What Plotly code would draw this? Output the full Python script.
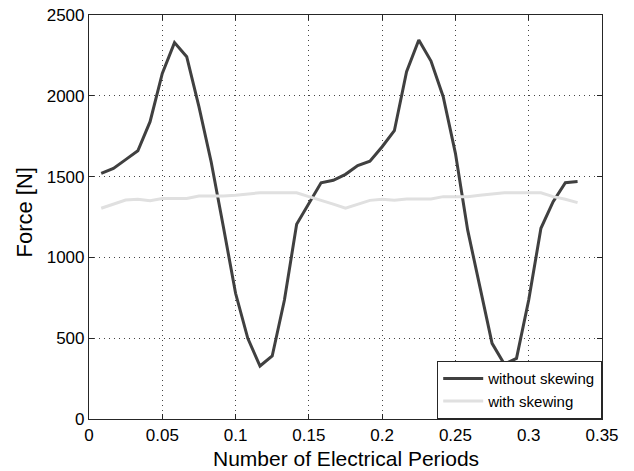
import plotly.graph_objects as go

periods = [k / 120 for k in range(1, 41)]

without_skewing = [1520, 1551, 1605, 1660, 1840, 2139, 2329, 2242, 1933, 1592,
                   1190, 778, 499, 328, 390, 736, 1205, 1330, 1462, 1477,
                   1514, 1568, 1595, 1685, 1784, 2149, 2345, 2215, 1994, 1644,
                   1170, 819, 468, 340, 375, 736, 1180, 1345, 1462, 1469]

with_skewing = [1304, 1330, 1355, 1360, 1350, 1365, 1365, 1365, 1380, 1380,
                1380, 1385, 1392, 1400, 1400, 1400, 1400, 1376, 1355, 1330,
                1304, 1330, 1353, 1360, 1353, 1362, 1362, 1362, 1376, 1378,
                1376, 1384, 1392, 1400, 1400, 1400, 1400, 1376, 1360, 1339]

x_ticks = [0, 0.05, 0.1, 0.15, 0.2, 0.25, 0.3, 0.35]
x_tick_labels = ["0", "0.05", "0.1", "0.15", "0.2", "0.25", "0.3", "0.35"]
y_ticks = [0, 500, 1000, 1500, 2000, 2500]
y_tick_labels = ["0", "500", "1000", "1500", "2000", "2500"]

FONT = "Liberation Sans, Arial, Helvetica, sans-serif"

fig = go.Figure()
fig.add_trace(go.Scatter(x=periods, y=without_skewing, mode="lines",
                         name="without skewing",
                         line=dict(color="#404040", width=3)))
fig.add_trace(go.Scatter(x=periods, y=with_skewing, mode="lines",
                         name="with skewing",
                         line=dict(color="#e0e0e0", width=3)))

axis_common = dict(
    showline=True, linecolor="#262626", linewidth=1.2, mirror="ticks",
    ticks="inside", ticklen=5, tickcolor="#262626",
    showgrid=True, gridcolor="#444444", griddash="1px,4px", gridwidth=1,
    zeroline=False, automargin=False,
    tickfont=dict(family=FONT, size=17, color="black"),
)

fig.update_layout(
    width=634, height=471,
    margin=dict(l=89, r=32, t=15, b=52),
    paper_bgcolor="white", plot_bgcolor="white",
    font=dict(family=FONT, color="black"),
    showlegend=True,
    legend=dict(x=1, y=0, xanchor="right", yanchor="bottom",
                bordercolor="#262626", borderwidth=1.2, bgcolor="white",
                font=dict(family=FONT, size=15, color="black"),
                tracegroupgap=0, itemwidth=40),
    xaxis=dict(range=[0, 0.35], tickvals=x_ticks, ticktext=x_tick_labels,
               **axis_common),
    yaxis=dict(range=[0, 2500], tickvals=y_ticks, ticktext=y_tick_labels,
               **axis_common),
    annotations=[
        dict(text="Number of Electrical Periods", xref="paper", yref="paper",
             x=0.5, y=-0.098, xanchor="center", yanchor="middle",
             showarrow=False, font=dict(family=FONT, size=21, color="black")),
        dict(text="Force [N]", xref="paper", yref="paper",
             x=-0.126, y=0.512, xanchor="center", yanchor="middle",
             textangle=-90, showarrow=False,
             font=dict(family=FONT, size=22, color="black")),
    ],
)

fig.write_html("out.html",
               config={"displayModeBar": False},
               post_script="document.body.style.margin='0';"
                           "document.body.style.overflow='hidden';")
